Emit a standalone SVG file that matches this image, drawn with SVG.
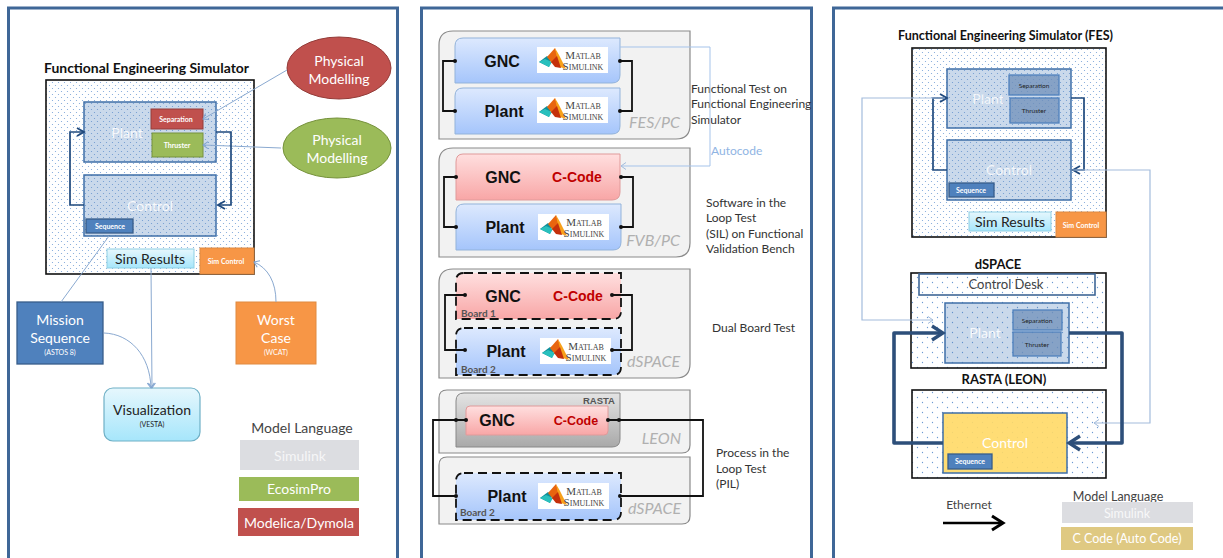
<svg xmlns="http://www.w3.org/2000/svg" width="1223" height="558" viewBox="0 0 1223 558">
<style>
text{font-family:Lato,"Liberation Sans",sans-serif}
.panel{fill:#fff;stroke:#3f6797;stroke-width:3}
.sim{fill:url(#dots);stroke:#111;stroke-width:1.6}
.sim2{fill:url(#dots2);stroke:#111;stroke-width:1.6}
.blk{fill:#4f81bd;fill-opacity:.3;stroke:#3f6fa8;stroke-width:1.5}
.seq{fill:#4f81bd;stroke:#385d8a;stroke-width:1.3}
.red{fill:#c0504d;stroke:#943d3a}
.grn{fill:#9bbb59;stroke:#76923c}
.org{fill:#f79646;stroke:#e08a40}
.dim{fill:#6f8fba;fill-opacity:.75;stroke:#4f81bd;stroke-width:1.3}
.res{fill:url(#cy);stroke:#8fd0e4}
.grp{fill:#f2f2f2;stroke:#8a8a8a;stroke-width:1.2}
.bl{fill:url(#gblue);stroke:#93b3da}
.rd{fill:url(#gred);stroke:#e09a9a}
.blD{fill:url(#gblue);stroke:#111;stroke-width:1.8;stroke-dasharray:9 5}
.rdD{fill:url(#gred);stroke:#111;stroke-width:1.8;stroke-dasharray:9 5}
.w{fill:#fff;text-anchor:middle}
.d{fill:#222;text-anchor:middle}
.ttl{fill:#111;text-anchor:middle;font-weight:700;font-size:13px}
.t7{font-size:7px;font-weight:700}
.t6{font-size:6.5px;fill:#222;text-anchor:middle}
.nd{font-size:14px}
.gn{font-family:"Liberation Sans",sans-serif;font-weight:700;font-size:16px;fill:#111;text-anchor:middle}
.cc{font-family:"Liberation Sans",sans-serif;font-weight:700;font-size:14px;fill:#c00000;text-anchor:middle}
.pf{font-size:16px;font-style:italic;fill:#b0b0b0;text-anchor:end}
.note{font-size:12px;fill:#333}
.brd{font-size:10px;font-weight:700;fill:#555}
.ml{font-family:"Liberation Serif",serif;fill:#444;text-anchor:middle;font-size:8px}
.ml tspan{font-size:11px}
.thin{fill:none;stroke:#8aa9d0;stroke-width:1}
.lite{fill:none;stroke:#a3bcdc;stroke-width:1.2}
.loop{fill:none;stroke:#1f497d;stroke-width:1.7}
.thick{fill:none;stroke:#2d4f7a;stroke-width:3.6;stroke-linejoin:round}
.wire{fill:none;stroke:#111;stroke-width:1.800}
.auto{fill:none;stroke:#a5c3ea;stroke-width:1}
.dot{fill:#111}
</style>
<defs>
<pattern id="dots" width="6" height="6" patternUnits="userSpaceOnUse"><circle cx="1.5" cy="1.5" r=".6" fill="#7ba4d8"/><circle cx="4.5" cy="4.5" r=".6" fill="#7ba4d8"/></pattern>
<pattern id="dots2" width="10" height="10" patternUnits="userSpaceOnUse"><circle cx="2.5" cy="2.5" r=".65" fill="#6e9ad2"/><circle cx="7.5" cy="7.5" r=".65" fill="#6e9ad2"/></pattern>
<linearGradient id="cy" x1="0" y1="0" x2="0" y2="1"><stop offset="0" stop-color="#e6f7fd"/><stop offset="1" stop-color="#a6e6fb"/></linearGradient>
<linearGradient id="gblue" x1="0" y1="0" x2="0" y2="1"><stop offset="0" stop-color="#dde9fe"/><stop offset="1" stop-color="#a5c5fb"/></linearGradient>
<linearGradient id="gred" x1="0" y1="0" x2="0" y2="1"><stop offset="0" stop-color="#ffdfdf"/><stop offset="1" stop-color="#f8a6a6"/></linearGradient>
<linearGradient id="ggr" x1="0" y1="0" x2="0" y2="1"><stop offset="0" stop-color="#e4e4e4"/><stop offset="1" stop-color="#a9a9a9"/></linearGradient>
<marker id="aThin" markerUnits="userSpaceOnUse" markerWidth="10" markerHeight="10" refX="7" refY="5" orient="auto"><path d="M2 1.5L7 5L2 8.5" fill="none" stroke="#7fa2cf" stroke-width="1"/></marker>
<marker id="aLite" markerUnits="userSpaceOnUse" markerWidth="10" markerHeight="10" refX="7" refY="5" orient="auto"><path d="M2 1.5L7 5L2 8.5" fill="none" stroke="#a3bcdc" stroke-width="1"/></marker>
<marker id="aLoop" markerUnits="userSpaceOnUse" markerWidth="12" markerHeight="12" refX="10" refY="6" orient="auto"><path d="M3 2L10 6L3 10" fill="none" stroke="#1f497d" stroke-width="1.8"/></marker>
<marker id="aThick" markerUnits="userSpaceOnUse" markerWidth="18" markerHeight="18" refX="15" refY="9" orient="auto"><path d="M4 2L15 9L4 16" fill="none" stroke="#2d4f7a" stroke-width="3.4"/></marker>
<marker id="aBlack" markerUnits="userSpaceOnUse" markerWidth="18" markerHeight="18" refX="15" refY="9" orient="auto"><path d="M4 2L15 9L4 16" fill="none" stroke="#000" stroke-width="3"/></marker>
<g id="logo">
<rect width="71" height="26" fill="#fff"/>
<path d="M2 15L10 9L14 12L12 20Z" fill="#0f8f9a"/>
<path d="M2 15L12 20L15 15L8 12Z" fill="#29c0bd"/>
<path d="M10 10L18 1L21 10L15 16Z" fill="#e8650f"/>
<path d="M18 1L22 8L29 22L23 20L20 11Z" fill="#f7a11a"/>
<path d="M14 15L20 9L24 21L18 20Z" fill="#c4300b"/>
</g>
</defs>

<rect id="bg" width="1223" height="558" fill="#fff"/>
<g id="panels">
<rect class="panel" x="8.500" y="8" width="389" height="552"/>
<rect class="panel" x="421.500" y="8" width="390" height="552"/>
<rect class="panel" x="833.500" y="8" width="392" height="552"/>
</g>

<g id="left-fes">
<text class="ttl" x="146.500" y="73" textLength="205" lengthAdjust="spacingAndGlyphs">Functional Engineering Simulator</text>
<rect class="sim" x="46" y="80" width="208" height="194"/>
</g>
<g id="left-plant">
<rect class="blk" x="84" y="102" width="132" height="60"/>
<text class="w nd" x="127" y="138" opacity=".85">Plant</text>
</g>
<g id="left-separation"><rect class="red" x="151" y="109" width="52" height="20"/><text class="w t7" x="176" y="122">Separation</text></g>
<g id="left-thruster"><rect class="grn" x="152" y="133" width="51" height="24"/><text class="w t7" x="177" y="148">Thruster</text></g>
<g id="left-control">
<rect class="blk" x="84" y="175" width="132" height="61"/>
<text class="w nd" x="150" y="211" opacity=".85">Control</text>
</g>
<g id="left-sequence"><rect class="seq" x="86" y="219" width="47" height="14"/><text class="w t7" x="110" y="229">Sequence</text></g>
<g id="left-simresults"><rect class="res" x="107" y="249" width="87" height="19"/><text class="d nd" x="150" y="264">Sim Results</text></g>
<g id="left-simcontrol"><rect class="org" x="200" y="248" width="54" height="26"/><text class="w t7" x="226" y="264">Sim Control</text></g>
<g id="phys-red"><ellipse cx="339" cy="68" rx="52" ry="31" class="red"/><text class="w nd" x="339" y="66">Physical</text><text class="w nd" x="339" y="84">Modelling</text></g>
<g id="phys-green"><ellipse cx="337" cy="148" rx="54" ry="30" class="grn"/><text class="w nd" x="337" y="145">Physical</text><text class="w nd" x="337" y="163">Modelling</text></g>
<g id="mission"><rect class="seq" x="17" y="302" width="86" height="62"/><text class="w nd" x="60" y="325">Mission</text><text class="w nd" x="60" y="343">Sequence</text><text class="w t7" x="60" y="355" style="font-weight:400">(ASTOS 8)</text></g>
<g id="worst"><rect class="org" x="236" y="302" width="80" height="62"/><text class="w nd" x="276" y="325">Worst</text><text class="w nd" x="276" y="343">Case</text><text class="w t7" x="276" y="355" style="font-weight:400">(WCAT)</text></g>
<g id="visual"><rect x="104" y="388" width="96" height="53" rx="9" fill="url(#cy)" stroke="#6fb0c6" stroke-width="1.2"/><text class="d nd" x="152" y="415">Visualization</text><text class="d t7" x="152" y="427" style="font-weight:400">(VESTA)</text></g>
<g id="legend-left">
<text x="302" y="433" font-size="14" fill="#444" text-anchor="middle">Model Language</text>
<rect x="240" y="440" width="119" height="30" fill="#dcdde1"/><text class="w nd" x="300" y="461" opacity=".75">Simulink</text>
<rect x="239" y="477" width="120" height="24" fill="#9bbb59"/><text class="w nd" x="299" y="494">EcosimPro</text>
<rect x="238" y="508" width="121" height="28" fill="#c0504d"/><text class="w nd" x="299" y="528">Modelica/Dymola</text>
</g>

<g id="mid-fes">
<path class="grp" d="M453 31H690V125Q690 139 676 139H439V45Q439 31 453 31Z"/>
<text class="pf" x="680" y="128">FES/PC</text>
</g>
<g id="mid-gnc1">
<path class="bl" d="M463 38H620V75Q620 83 612 83H455V46Q455 38 463 38Z"/>
<text class="gn" x="502" y="67">GNC</text>
<g transform="translate(537,47)"><use href="#logo"/><text class="ml" x="46" y="12"><tspan>M</tspan>ATLAB</text><text class="ml" x="46" y="23"><tspan>S</tspan>IMULINK</text></g>
</g>
<g id="mid-plant1">
<path class="bl" d="M463 88H620V126Q620 134 612 134H455V96Q455 88 463 88Z"/>
<text class="gn" x="504" y="117">Plant</text>
<g transform="translate(537,97)"><use href="#logo"/><text class="ml" x="46" y="12"><tspan>M</tspan>ATLAB</text><text class="ml" x="46" y="23"><tspan>S</tspan>IMULINK</text></g>
</g>
<g id="mid-note1" class="note"><text x="691" y="93">Functional Test on</text><text x="691" y="108">Functional Engineering</text><text x="691" y="124">Simulator</text></g>
<g id="mid-fvb">
<path class="grp" d="M453 148H690V243Q690 257 676 257H439V162Q439 148 453 148Z"/>
<text class="pf" x="680" y="246">FVB/PC</text>
</g>
<g id="mid-gnc2">
<path class="rd" d="M463 154H620V192Q620 200 612 200H456V162Q456 154 463 154Z"/>
<text class="gn" x="503" y="183">GNC</text>
<text class="cc" x="577" y="182">C-Code</text>
</g>
<g id="mid-plant2">
<path class="bl" d="M464 204H621V242Q621 250 613 250H456V212Q456 204 464 204Z"/>
<text class="gn" x="505" y="233">Plant</text>
<g transform="translate(538,214)"><use href="#logo"/><text class="ml" x="46" y="12"><tspan>M</tspan>ATLAB</text><text class="ml" x="46" y="23"><tspan>S</tspan>IMULINK</text></g>
</g>
<g id="mid-note2" class="note"><text x="706" y="207">Software in the</text><text x="706" y="222">Loop Test</text><text x="706" y="238">(SIL) on Functional</text><text x="706" y="253">Validation Bench</text></g>
<g id="mid-dspace">
<path class="grp" d="M453 269H690V364Q690 378 676 378H439V283Q439 269 453 269Z"/>
<text class="pf" x="680" y="367">dSPACE</text>
</g>
<g id="mid-gnc3">
<path class="rdD" d="M464 273H621V311Q621 319 613 319H456V281Q456 273 464 273Z"/>
<text class="gn" x="503" y="302">GNC</text>
<text class="cc" x="578" y="301">C-Code</text>
<text class="brd" x="461" y="317">Board 1</text>
</g>
<g id="mid-plant3">
<path class="blD" d="M464 328H621V367Q621 375 613 375H456V336Q456 328 464 328Z"/>
<text class="gn" x="506" y="357">Plant</text>
<text class="brd" x="461" y="373">Board 2</text>
<g transform="translate(540,338)"><use href="#logo"/><text class="ml" x="46" y="12"><tspan>M</tspan>ATLAB</text><text class="ml" x="46" y="23"><tspan>S</tspan>IMULINK</text></g>
</g>
<text id="mid-note3" class="note" x="712" y="332">Dual Board Test</text>
<g id="mid-leon">
<path class="grp" d="M447 390H690V445Q690 453 682 453H439V398Q439 390 447 390Z"/>
<text class="pf" x="681" y="444">LEON</text>
</g>
<g id="mid-rasta">
<path d="M464 393H620V439Q620 447 612 447H456V401Q456 393 464 393Z" fill="url(#ggr)" stroke="#888"/>
<text x="615" y="404" style="font-family:'Liberation Sans',sans-serif" font-size="9.500" font-weight="700" fill="#555" text-anchor="end">RASTA</text>
</g>
<g id="mid-gnc4">
<path class="rd" d="M470 406H608V431Q608 435 604 435H466V410Q466 406 470 406Z"/>
<text class="gn" x="497" y="426">GNC</text>
<text class="cc" x="576" y="425" style="font-size:12.500px">C-Code</text>
</g>
<g id="mid-dspace2">
<path class="grp" d="M447 457H690V516Q690 524 682 524H439V465Q439 457 447 457Z"/>
<text class="pf" x="681" y="514">dSPACE</text>
</g>
<g id="mid-plant4">
<path class="blD" d="M464 473H621V512Q621 520 613 520H456V481Q456 473 464 473Z"/>
<text class="gn" x="507" y="502">Plant</text>
<text class="brd" x="460" y="516">Board 2</text>
<g transform="translate(538,483)"><use href="#logo"/><text class="ml" x="46" y="12"><tspan>M</tspan>ATLAB</text><text class="ml" x="46" y="23"><tspan>S</tspan>IMULINK</text></g>
</g>
<g id="mid-note4" class="note"><text x="716" y="457">Process in the</text><text x="716" y="473">Loop Test</text><text x="716" y="488">(PIL)</text></g>
<text id="autocode" x="711" y="155" font-size="12" fill="#8fb4e3">Autocode</text>

<g id="right-fes">
<text class="ttl" x="1005.500" y="40" textLength="215" lengthAdjust="spacingAndGlyphs" style="font-size:12.500px">Functional Engineering Simulator (FES)</text>
<rect class="sim" x="912" y="48" width="194" height="189"/>
</g>
<g id="right-plant1"><rect class="blk" x="947" y="69" width="124" height="59"/><text class="w nd" x="988" y="104" opacity=".8">Plant</text></g>
<g id="right-sep1"><rect class="dim" x="1009" y="75" width="50" height="20"/><text class="t6" x="1034" y="88">Separation</text></g>
<g id="right-thr1"><rect class="dim" x="1010" y="98" width="49" height="25"/><text class="t6" x="1034" y="113">Thruster</text></g>
<g id="right-control1"><rect class="blk" x="947" y="140" width="124" height="60"/><text class="w nd" x="1009" y="175" opacity=".8">Control</text></g>
<g id="right-seq1"><rect class="seq" x="949" y="183" width="45" height="14"/><text class="w t7" x="971" y="193">Sequence</text></g>
<g id="right-simres"><rect class="res" x="969" y="212" width="82" height="19"/><text class="d nd" x="1010" y="227">Sim Results</text></g>
<g id="right-simctl"><rect class="org" x="1056" y="212" width="50" height="25"/><text class="w t7" x="1081" y="228">Sim Control</text></g>
<text id="dspace-label" x="998" y="269" class="ttl">dSPACE</text>
<g id="right-dspace"><rect class="sim2" x="911" y="273" width="195" height="95"/></g>
<g id="right-desk"><rect x="919" y="274" width="176" height="21" fill="none" stroke="#3f6797" stroke-width="1.6"/><text x="1006" y="289" font-size="13" fill="#444" text-anchor="middle">Control Desk</text></g>
<g id="right-plant2"><rect class="blk" x="945" y="303" width="124" height="60"/><text class="w nd" x="985" y="338" opacity=".85">Plant</text></g>
<g id="right-sep2"><rect class="dim" x="1013" y="310" width="49" height="20"/><text class="t6" x="1037" y="323">Separation</text></g>
<g id="right-thr2"><rect class="dim" x="1013" y="332" width="48" height="24"/><text class="t6" x="1037" y="347">Thruster</text></g>
<text id="rasta-label" x="1004" y="384" class="ttl">RASTA (LEON)</text>
<g id="right-rasta"><rect class="sim2" x="912" y="390" width="194" height="88"/></g>
<g id="right-control2"><rect x="943" y="413" width="124" height="60" fill="#ffd966" fill-opacity=".9" stroke="#3f6fa8" stroke-width="1.5"/><text class="w nd" x="1005" y="448">Control</text></g>
<g id="right-seq2"><rect class="seq" x="948" y="454" width="44" height="15"/><text class="w t7" x="970" y="464">Sequence</text></g>
<text id="ethernet" x="969" y="509" font-size="12" fill="#444" text-anchor="middle">Ethernet</text>
<g id="legend-right">
<text x="1118" y="501" font-size="12.500" fill="#444" text-anchor="middle">Model Language</text>
<rect x="1062" y="502" width="131" height="21" fill="#dcdde1"/><text class="w" x="1127" y="518" font-size="12.500" opacity=".8">Simulink</text>
<rect x="1061" y="527" width="132" height="23" fill="#dfc982"/><text class="w" x="1127" y="543" font-size="12.500">C Code (Auto Code)</text>
</g>

<g id="connectors">
<path class="thin" d="M287 70L203 119" marker-end="url(#aThin)"/>
<path class="thin" d="M281 148L203 145" marker-end="url(#aThin)"/>
<path class="thin" d="M61 302L109 236"/>
<path class="thin" d="M151 268L152 388" marker-end="url(#aThin)"/>
<path class="thin" d="M104 333C130 334 150 355 151 388" marker-end="url(#aThin)"/>
<path class="thin" d="M276 302C276 282 268 268 254 262" marker-end="url(#aThin)"/>
<path class="loop" d="M84 205H70V132H84" marker-end="url(#aLoop)"/>
<path class="loop" d="M216 132H231V205H218" marker-end="url(#aLoop)"/>

<path class="wire" d="M455 61H443V111H455"/>
<path class="wire" d="M620 61H632V111H620"/>
<path class="auto" d="M620 47H710V166H621" marker-end="url(#aLite)"/>
<path class="wire" d="M456 177H444V227H456"/>
<path class="wire" d="M621 177H633V227H621"/>
<path class="wire" d="M465 295H445V350H465"/>
<path class="wire" d="M612 295H632V350H612"/>
<path class="wire" d="M466 420H433V496H456"/>
<path class="wire" d="M608 420H703V496H620"/>
<g class="dot">
<circle cx="455" cy="61" r="2"/><circle cx="455" cy="111" r="2"/><circle cx="620" cy="61" r="2"/><circle cx="620" cy="111" r="2"/>
<circle cx="456" cy="177" r="2"/><circle cx="456" cy="227" r="2"/><circle cx="621" cy="177" r="2"/><circle cx="621" cy="227" r="2"/>
<circle cx="465" cy="295" r="2"/><circle cx="465" cy="350" r="2"/><circle cx="612" cy="295" r="2"/><circle cx="612" cy="350" r="2"/>
<circle cx="456" cy="420" r="2"/><circle cx="466" cy="420" r="2"/><circle cx="608" cy="420" r="2"/><circle cx="619" cy="420" r="2"/>
<circle cx="456" cy="496" r="2"/><circle cx="620" cy="496" r="2"/>
</g>

<path class="loop" d="M947 170H933V98H947" marker-end="url(#aLoop)"/>
<path class="loop" d="M1071 98H1084V170H1073" marker-end="url(#aLoop)"/>
<path class="lite" d="M945 98H862V320H933" marker-end="url(#aLite)"/>
<path class="lite" d="M1073 170H1150V423H1094" marker-end="url(#aLite)"/>
<path class="thick" d="M1069 333H1122V443H1069" marker-end="url(#aThick)"/>
<path class="thick" d="M943 443H894V333H943" marker-end="url(#aThick)"/>
<path fill="none" stroke="#000" stroke-width="2.600" d="M943 523H1003" marker-end="url(#aBlack)"/>
</g>
</svg>
